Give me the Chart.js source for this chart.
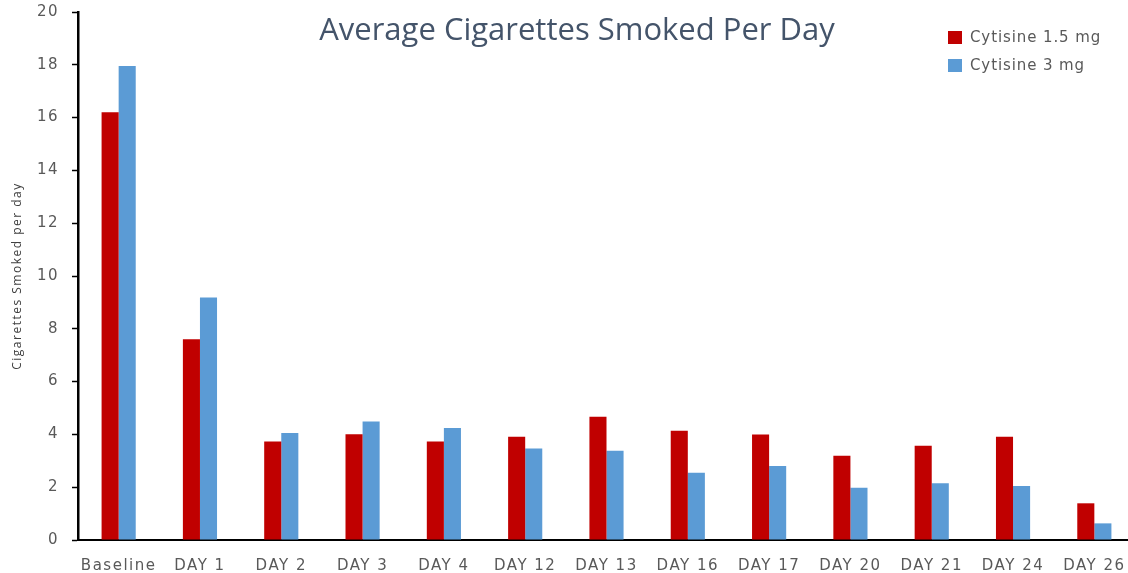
<!DOCTYPE html>
<html>
<head>
<meta charset="utf-8">
<script src="https://cdn.jsdelivr.net/npm/chart.js@4/dist/chart.umd.min.js"></script>
<style>
  html, body { margin: 0; padding: 0; background: #fff; overflow: hidden; }
  #wrap { width: 1136px; height: 573px; }
</style>
</head>
<body>
<div id="wrap"><canvas id="c" width="1136" height="573"></canvas></div>
<script>
// values
var days = ['Baseline', 'DAY 1', 'DAY 2', 'DAY 3', 'DAY 4', 'DAY 12', 'DAY 13', 'DAY 16', 'DAY 17', 'DAY 20', 'DAY 21', 'DAY 24', 'DAY 26']
var cyt15 = [16.2, 7.6, 3.73, 4.01, 3.73, 3.91, 4.67, 4.14, 4.0, 3.19, 3.57, 3.91, 1.39]
var cyt3 = [17.95, 9.19, 4.05, 4.49, 4.24, 3.47, 3.38, 2.55, 2.8, 1.98, 2.15, 2.05, 0.63]
var yTicks = [0, 2, 4, 6, 8, 10, 12, 14, 16, 18, 20]

var TICK_FONT = '"DejaVu Sans", sans-serif'
var TITLE_FONT = '"Open Sans", "Liberation Sans", sans-serif'
var GREY = '#595959'

// the source text is wide, so space the letters out a bit
var spacing = {
    id: 'spacing',
    beforeUpdate: function(chart){ chart.ctx.letterSpacing = '1.5px' },
    beforeDraw: function(chart){ chart.ctx.letterSpacing = '1.5px' }
}

// title + legend sit inside the plot area, so draw them by hand
var overlay = {
    id: 'overlay',
    afterDraw: function(chart){
        var ctx = chart.ctx
        ctx.save()
        ctx.letterSpacing = '0px'
        ctx.fillStyle = '#44546A'
        ctx.font = '31px ' + TITLE_FONT
        ctx.textAlign = 'center'
        ctx.textBaseline = 'middle'
        ctx.fillText('Average Cigarettes Smoked Per Day', 577, 31)

        ctx.letterSpacing = '0.9px'
        ctx.font = '15px ' + TICK_FONT
        ctx.textAlign = 'left'
        chart.data.datasets.forEach(function(ds, i){
            var y = 38 + i * 28
            ctx.fillStyle = ds.backgroundColor
            ctx.fillRect(948, y - 7, 14, 13)
            ctx.fillStyle = GREY
            ctx.fillText(ds.label, 970, y)
        })
        ctx.restore()
    }
}

new Chart(document.getElementById('c'), {
    type: 'bar',
    data: {
        labels: days,
        datasets: [
            { label: 'Cytisine 1.5 mg', data: cyt15, backgroundColor: '#C00000' },
            { label: 'Cytisine 3 mg', data: cyt3, backgroundColor: '#5B9BD5' }
        ]
    },
    options: {
        responsive: false,
        animation: false,
        layout: { padding: { top: 12, right: 1, left: 0, bottom: 0 } },
        datasets: { bar: { categoryPercentage: 0.42, barPercentage: 1.0, borderWidth: 0 } },
        plugins: {
            legend: { display: false },
            tooltip: { enabled: false }
        },
        scales: {
            x: {
                grid: { display: false },
                border: { display: true, color: '#000', width: 2 },
                ticks: { color: GREY, font: { family: TICK_FONT, size: 15 }, padding: 9, maxRotation: 0 },
                afterFit: function(s){ s.height = 33 }
            },
            y: {
                min: 0, max: 20,
                afterBuildTicks: function(s){ s.ticks = yTicks.map(function(v){ return { value: v } }) },
                grid: { drawOnChartArea: false, drawTicks: true, tickLength: 6, tickColor: '#000', tickWidth: 1.5 },
                border: { display: true, color: '#000', width: 2.5 },
                ticks: { color: GREY, font: { family: TICK_FONT, size: 15 }, padding: 13 },
                title: {
                    display: true,
                    text: 'Cigarettes Smoked per day',
                    color: '#404040',
                    font: { family: TITLE_FONT, size: 12 },
                    padding: { top: 10, bottom: 2 }
                },
                afterFit: function(s){
                    s.width = 78
                    // let the plot start right at the top padding
                    s.paddingTop = 0
                    s.paddingBottom = 0
                }
            }
        }
    },
    plugins: [spacing, overlay]
});
</script>
</body>
</html>
